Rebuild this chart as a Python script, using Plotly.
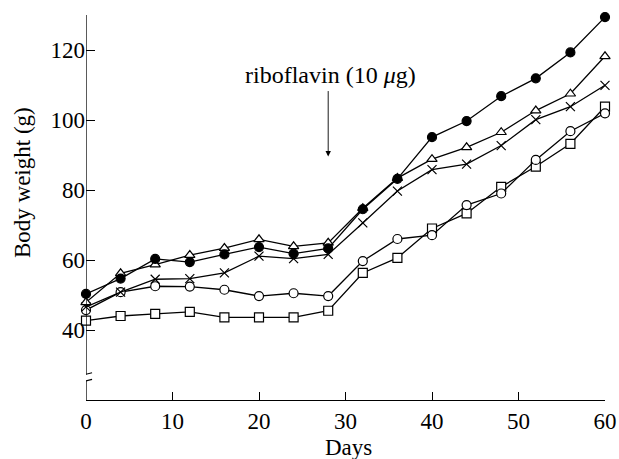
import plotly.graph_objects as go

days = [0, 4, 8, 12, 16, 20, 24, 28, 32, 36, 40, 44, 48, 52, 56, 60]
filled_circle = [50.3, 54.7, 60.3, 59.4, 61.6, 63.7, 61.8, 63.3, 74.5, 83.2, 95.1, 99.7, 106.8, 111.9, 119.3, 129.4]
open_triangle = [47.9, 56.2, 58.7, 61.4, 63.4, 65.9, 63.9, 64.9, 74.8, 83.4, 88.8, 92.2, 96.5, 102.7, 107.5, 118.2]
cross = [46.6, 50.8, 54.5, 54.7, 56.3, 61.1, 60.4, 61.6, 70.6, 79.7, 85.8, 87.4, 92.7, 100.1, 103.8, 109.9]
open_circle = [45.7, 50.8, 52.5, 52.4, 51.5, 49.7, 50.5, 49.7, 59.7, 66.0, 67.1, 75.7, 79.0, 88.6, 96.8, 101.9]
open_square = [42.7, 44.0, 44.6, 45.2, 43.6, 43.6, 43.6, 45.5, 56.3, 60.6, 69.0, 73.3, 80.9, 86.7, 93.2, 103.8]

x_ticks = [0, 10, 20, 30, 40, 50, 60]
y_ticks = [40, 60, 80, 100, 120]

FONT = "Liberation Serif"
fig = go.Figure()

series = [
    (open_square, "square", "white"),
    (open_circle, "circle", "white"),
    (cross, "x-thin", "black"),
    (open_triangle, "triangle-up", "white"),
    (filled_circle, "circle", "black"),
]
for vals, sym, fill in series:
    fig.add_trace(go.Scatter(
        x=days, y=vals, mode="lines+markers",
        line=dict(color="black", width=1.3),
        marker=dict(symbol=sym, size=9, color=fill,
                    line=dict(color="black", width=1.2)),
        showlegend=False, cliponaxis=False,
    ))

# y axis line with break
fig.add_shape(type="line", xref="x", yref="y", x0=0, x1=0, y0=20, y1=25.5,
              line=dict(color="black", width=1.3))
fig.add_shape(type="line", xref="x", yref="y", x0=0, x1=0, y0=27.3, y1=130,
              line=dict(color="black", width=1.3))
for y0 in (24.9, 26.8):
    fig.add_shape(type="line", xref="x", yref="y", x0=-0.9, x1=0.7,
                  y0=y0, y1=y0 + 1.0, line=dict(color="black", width=1.1))

# arrow + label
fig.add_annotation(x=28, y=89.6, ax=28, ay=108.7, xref="x", yref="y",
                   axref="x", ayref="y", showarrow=True, arrowhead=2,
                   arrowsize=1.2, arrowwidth=0.9, arrowcolor="black", text="")
fig.add_annotation(x=28.3, y=112.8, xref="x", yref="y", showarrow=False,
                   xanchor="center", yanchor="middle",
                   text="riboflavin (10 <i>μ</i>g)",
                   font=dict(family=FONT, size=24, color="black"))

# axis titles
fig.add_annotation(x=-0.121, y=0.564, xref="paper", yref="paper", showarrow=False,
                   xanchor="center", yanchor="middle",
                   text="Body weight (g)", textangle=-90,
                   font=dict(family=FONT, size=23, color="black"))
fig.add_annotation(x=0.505, y=-0.123, xref="paper", yref="paper", showarrow=False,
                   xanchor="center", yanchor="middle",
                   text="Days", font=dict(family=FONT, size=23, color="black"))

fig.update_layout(
    width=619, height=459,
    margin=dict(l=86, r=14, t=15, b=59, autoexpand=False),
    paper_bgcolor="white", plot_bgcolor="white",
    font=dict(family=FONT, size=22, color="black"),
    xaxis=dict(range=[0, 60], tickvals=x_ticks, ticks="inside", ticklen=8,
               tickwidth=1.2, tickcolor="black", showline=True, linecolor="black",
               linewidth=1.3, showgrid=False, zeroline=False, automargin=False,
               tickfont=dict(family=FONT, size=23)),
    yaxis=dict(range=[20, 130], tickvals=y_ticks, ticks="inside", ticklen=9,
               tickwidth=1.2, tickcolor="black", showline=False,
               showgrid=False, zeroline=False, automargin=False,
               tickfont=dict(family=FONT, size=23)),
)

fig.write_html("out.html")
